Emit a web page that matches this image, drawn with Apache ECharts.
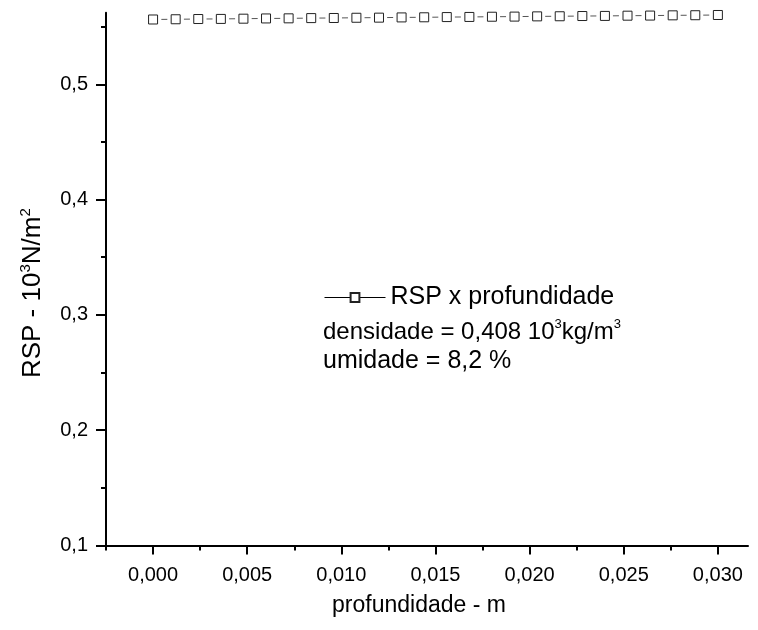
<!DOCTYPE html>
<html>
<head>
<meta charset="utf-8">
<script src="https://cdn.jsdelivr.net/npm/echarts@6/dist/echarts.min.js"></script>
<style>
  html, body { margin: 0; padding: 0; background: #fff; }
  #chart { width: 758px; height: 630px; }
</style>
</head>
<body>
<div id="chart"></div>
<script>
// profundidade (m)
const depth = [
  0.0000, 0.0012, 0.0024, 0.0036, 0.0048, 0.0060, 0.0072, 0.0084, 0.0096, 0.0108,
  0.0120, 0.0132, 0.0144, 0.0156, 0.0168, 0.0180, 0.0192, 0.0204, 0.0216, 0.0228,
  0.0240, 0.0252, 0.0264, 0.0276, 0.0288, 0.0300
]
// RSP (10^3 N/m^2)
const rsp = [
  0.5562, 0.5564, 0.5566, 0.5567, 0.5569, 0.5571, 0.5572, 0.5574, 0.5575, 0.5577,
  0.5578, 0.5580, 0.5581, 0.5583, 0.5584, 0.5586, 0.5587, 0.5589, 0.5590, 0.5592,
  0.5593, 0.5595, 0.5596, 0.5598, 0.5599, 0.5601
]
const xTicks = [0, 0.005, 0.01, 0.015, 0.02, 0.025, 0.03]
const xMinorTicks = [-0.0025, 0.0025, 0.0075, 0.0125, 0.0175, 0.0225, 0.0275]
const yTicks = [0.1, 0.2, 0.3, 0.4, 0.5]
const yMinorTicks = [0.15, 0.25, 0.35, 0.45, 0.55]

const font = '"Liberation Sans", Arial, sans-serif'
const comma = (v, d) => v.toFixed(d).replace('.', ',')

const chart = echarts.init(document.getElementById('chart'))

const baseX = {
  type: 'value',
  min: -0.0025,
  max: 0.0316,
  splitLine: { show: false },
  axisLine: { show: true, onZero: false, lineStyle: { color: '#000', width: 2 } },
}
const baseY = {
  type: 'value',
  min: 0.1,
  max: 0.562,
  splitLine: { show: false },
  axisLine: { show: true, onZero: false, lineStyle: { color: '#000', width: 2 } },
}

const option = {
  backgroundColor: '#fff',
  animation: false,
  grid: { left: 106, right: 10, top: 12.8, bottom: 84.5 },
  legend: {
    left: 319,
    top: 280,
    itemWidth: 61,
    itemHeight: 11,
    lineStyle: { type: 'solid', color: '#000', width: 1 },
    textStyle: { fontFamily: font, fontSize: 25, color: '#000' },
    data: ['RSP x profundidade'],
  },
  graphic: [
    {
      type: 'text',
      left: 323,
      top: 318,
      style: {
        text: '{a|densidade = 0,408 10}{s|3}{a|kg/m}{s|3}',
        rich: {
          a: { fontFamily: font, fontSize: 24, color: '#000', lineHeight: 28 },
          s: { fontFamily: font, fontSize: 13, color: '#000', verticalAlign: 'top', lineHeight: 28 },
        },
      },
    },
    {
      type: 'text',
      left: 323,
      top: 349,
      style: {
        text: 'umidade = 8,2 %',
        fontFamily: font,
        fontSize: 25,
        fill: '#000',
      },
    },
  ],
  xAxis: [
    Object.assign({}, baseX, {
      name: 'profundidade - m',
      nameLocation: 'middle',
      nameGap: 49,
      nameTextStyle: { fontFamily: font, fontSize: 23, color: '#000', padding: [0, 16, 0, 0] },
      axisTick: { show: true, length: 9, lineStyle: { color: '#000', width: 2 }, customValues: xTicks },
      axisLabel: {
        margin: 20,
        fontFamily: font,
        fontSize: 20,
        color: '#000',
        customValues: xTicks,
        formatter: (v) => comma(v, 3),
      },
    }),
    Object.assign({}, baseX, {
      position: 'bottom',
      axisLine: { show: false, onZero: false },
      axisTick: { show: true, length: 5, lineStyle: { color: '#000', width: 2 }, customValues: xMinorTicks },
      axisLabel: { show: false },
    }),
  ],
  yAxis: [
    Object.assign({}, baseY, {
      name: '{a|RSP - 10}{s|3}{a|N/m}{s|2}',
      nameLocation: 'middle',
      nameGap: 58,
      nameTextStyle: {
        padding: [0, 28, 0, 0],
        rich: {
          a: { fontFamily: font, fontSize: 26, color: '#000', lineHeight: 30 },
          s: { fontFamily: font, fontSize: 15, color: '#000', verticalAlign: 'top', lineHeight: 30 },
        },
      },
      axisTick: { show: true, length: 10, lineStyle: { color: '#000', width: 2 }, customValues: yTicks },
      axisLabel: {
        margin: 18,
        fontFamily: font,
        fontSize: 20,
        color: '#000',
        customValues: yTicks,
        formatter: (v) => comma(v, 1),
      },
    }),
    Object.assign({}, baseY, {
      position: 'left',
      axisLine: { show: false, onZero: false },
      axisTick: { show: true, length: 5, lineStyle: { color: '#000', width: 2 }, customValues: yMinorTicks },
      axisLabel: { show: false },
    }),
  ],
  series: [
    {
      name: 'RSP x profundidade',
      type: 'line',
      data: depth.map((d, i) => [d, rsp[i]]),
      symbol: 'rect',
      symbolSize: 9,
      clip: false,
      itemStyle: { color: '#fff', borderColor: '#222', borderWidth: 1 },
      lineStyle: { color: '#555', width: 1, type: [6, 16.58], dashOffset: 14.3 },
    },
  ],
}

chart.setOption(option)
</script>
</body>
</html>
